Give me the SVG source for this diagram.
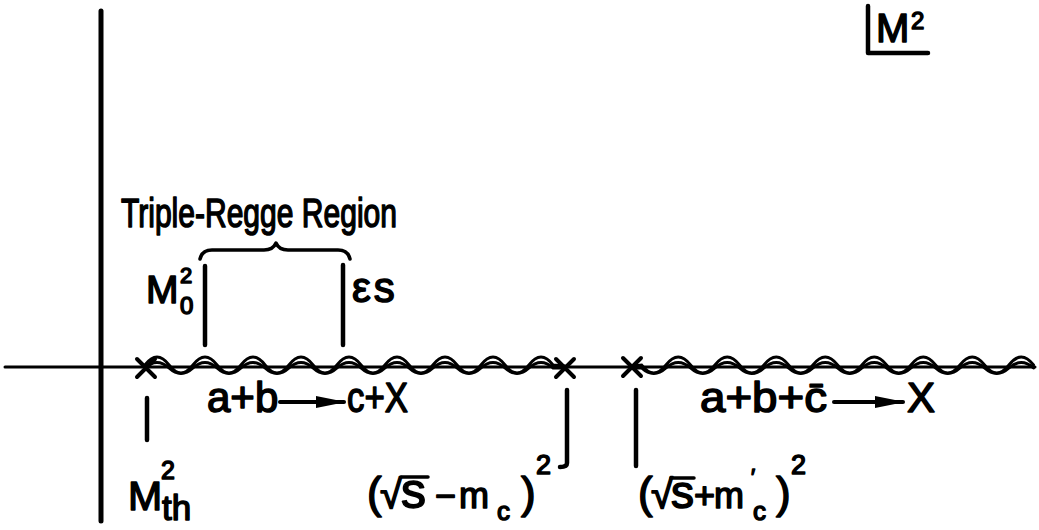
<svg xmlns="http://www.w3.org/2000/svg" width="1039" height="530" viewBox="0 0 1039 530">
<style>
.t{font-family:"Liberation Sans",Arial,sans-serif;fill:#000;stroke:#000;stroke-width:1.5;stroke-linejoin:round}
.ln{stroke:#000;fill:none;stroke-linecap:round;stroke-linejoin:round}
.w{stroke:#000;fill:none;stroke-width:3;stroke-linecap:round}
</style>
<defs>
<marker id="ah" viewBox="0 0 30 12" refX="28" refY="6" markerWidth="30" markerHeight="12" orient="auto" markerUnits="userSpaceOnUse">
<path d="M0,0 L30,6 L0,12 z" fill="#000"/>
</marker>
</defs>
<rect width="1039" height="530" fill="#fff"/>
<g id="axes">
<line class="ln" x1="101" y1="11" x2="101" y2="521" stroke-width="5"/>
<line class="ln" x1="5" y1="367" x2="1035" y2="367" stroke-width="3"/>
</g>
<g id="cuts">
<path class="w" d="M145,365 q12,-16 24,0 t24,0 t24,0 t24,0 t24,0 t24,0 t24,0 t24,0 t24,0 t24,0 t24,0 t24,0 t24,0 t24,0 t24,0 t24,0 t24,0 L565,366"/>
<path class="w" d="M145,368 q12,-11 24,0 t24,0 t24,0 t24,0 t24,0 t24,0 t24,0 t24,0 t24,0 t24,0 t24,0 t24,0 t24,0 t24,0 t24,0 t24,0 t24,0 L565,368"/>
<path class="w" d="M633,366 L641.5,365 q12.25,16 24.5,0 t24.5,0 t24.5,0 t24.5,0 t24.5,0 t24.5,0 t24.5,0 t24.5,0 t24.5,0 t24.5,0 t24.5,0 t24.5,0 t24.5,0 t24.5,0 t24.5,0 t24.5,0"/>
<path class="w" d="M633,368 L641.5,368 q12.25,11 24.5,0 t24.5,0 t24.5,0 t24.5,0 t24.5,0 t24.5,0 t24.5,0 t24.5,0 t24.5,0 t24.5,0 t24.5,0 t24.5,0 t24.5,0 t24.5,0 t24.5,0 t24.5,0"/>
</g>
<g id="crosses">
<path class="ln" stroke-width="4" d="M137,359 L155,377 M155,359 L137,377"/>
<path class="ln" stroke-width="4" d="M556,359 L574,377 M574,359 L556,377"/>
<path class="ln" stroke-width="4" d="M623,358 L641,376 M641,358 L623,376"/>
</g>
<g id="ticks">
<line class="ln" x1="205" y1="266" x2="205" y2="345" stroke-width="4.5"/>
<line class="ln" x1="343" y1="265" x2="343" y2="345" stroke-width="4.5"/>
<line class="ln" x1="147" y1="398" x2="147" y2="440" stroke-width="4.5"/>
<path class="ln" stroke-width="4.5" d="M567,390 L567,463 Q567,467 560,467"/>
<line class="ln" x1="636" y1="390" x2="636" y2="466" stroke-width="4.5"/>
<path class="ln" stroke-width="3.5" d="M200,259 Q202,250 212,250 L264,250 Q273,250 276,243 Q279,250 288,250 L338,250 Q348,250 350,259"/>
<path class="ln" stroke-width="4.5" d="M868,6 L868,53 L928,53"/>
</g>
<g id="labels">
<text class="t" x="121" y="227" font-size="40" textLength="276" lengthAdjust="spacingAndGlyphs">Triple-Regge Region</text>
<text class="t" x="146" y="303" font-size="39">M<tspan x="180" y="283" font-size="22">2</tspan><tspan x="180" y="314" font-size="24">0</tspan></text>
<text class="t" x="352" y="302" font-size="42" letter-spacing="3">εs</text>
<text class="t" x="207" y="412" font-size="42">a+b</text>
<line class="ln" x1="280" y1="402" x2="344" y2="402" stroke-width="4" marker-end="url(#ah)"/>
<text class="t" x="347" y="412" font-size="42" textLength="61" lengthAdjust="spacingAndGlyphs">c+X</text>
<text class="t" x="700" y="412" font-size="42" textLength="127" lengthAdjust="spacingAndGlyphs">a+b+c&#x304;</text>
<line class="ln" x1="834" y1="402" x2="903" y2="402" stroke-width="4" marker-end="url(#ah)"/>
<text class="t" x="907" y="412" font-size="42">X</text>
<text class="t" x="128" y="510" font-size="41">M<tspan x="161" y="479" font-size="25">2</tspan><tspan x="162" y="520" font-size="35">th</tspan></text>
<text class="t" x="367" y="508" font-size="44">(<tspan x="380" font-size="40">√</tspan><tspan x="401" font-size="50">s</tspan><tspan x="435" font-size="36">−</tspan><tspan x="459" font-size="36">m</tspan><tspan x="497" y="520" font-size="26">c</tspan><tspan x="521" y="508" font-size="44">)</tspan><tspan x="536" y="474" font-size="27">2</tspan></text>
<line class="ln" x1="401" y1="477" x2="428" y2="477" stroke-width="3.5"/>
<text class="t" x="638" y="508" font-size="44">(<tspan x="651" font-size="40">√</tspan><tspan x="671" font-size="46">s</tspan><tspan x="694" font-size="36">+</tspan><tspan x="714" font-size="36">m</tspan><tspan x="751" y="484" font-size="22">′</tspan><tspan x="753" y="520" font-size="26">c</tspan><tspan x="776" y="508" font-size="44">)</tspan><tspan x="791" y="474" font-size="27">2</tspan></text>
<line class="ln" x1="671" y1="478" x2="694" y2="478" stroke-width="3.5"/>
<text class="t" x="876" y="42" font-size="40">M<tspan x="911" y="29" font-size="24">2</tspan></text>
</g>
</svg>
